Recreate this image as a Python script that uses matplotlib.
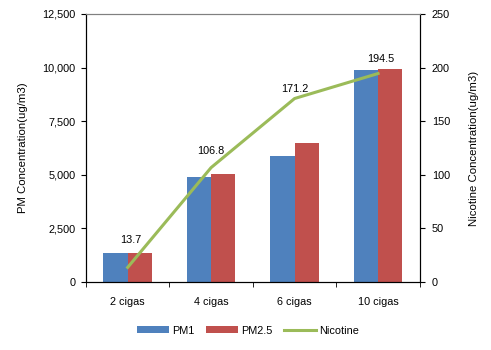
import matplotlib
matplotlib.use("Agg")
import matplotlib.pyplot as plt
import matplotlib.ticker as mticker
import numpy as np

plt.rcParams['font.family'] = ['Liberation Sans', 'DejaVu Sans']

# data
categories = ["2 cigas", "4 cigas", "6 cigas", "10 cigas"]
pm1 = [1340, 4880, 5890, 9890]
pm25 = [1340, 5040, 6500, 9930]
nicotine = [13.7, 106.8, 171.2, 194.5]

# label offsets (points) for the nicotine labels
label_dy = [16, 8, 3, 7]
label_dx = [2, 0, 0, 2]

fig = plt.figure(figsize=(4.91, 3.5), dpi=100)
ax = fig.add_axes([0.175, 0.194, 0.68, 0.766])
ax2 = ax.twinx()

x = np.arange(len(categories))
w = 0.29
ax.bar(x - w / 2, pm1, w, color='#4F81BD', label='PM1', zorder=2)
ax.bar(x + w / 2, pm25, w, color='#C0504D', label='PM2.5', zorder=2)
ax2.plot(x, nicotine, color='#9BBB59', lw=2.2, label='Nicotine')

for i, v in enumerate(nicotine):
    ax2.annotate(f"{v}", (x[i], v), xytext=(label_dx[i], label_dy[i]),
                 textcoords='offset points', ha='center', va='bottom', fontsize=7.8)

ax.set_xlim(-0.5, len(categories) - 0.5)
ax.set_ylim(0, 12500)
ax2.set_ylim(0, 250)
ax.yaxis.set_major_locator(mticker.MultipleLocator(2500))
ax.yaxis.set_major_formatter(mticker.FuncFormatter(lambda v, p: f"{int(v):,}"))
ax2.yaxis.set_major_locator(mticker.MultipleLocator(50))

ax.set_xticks(x)
ax.set_xticklabels(categories)
ax.set_xticks(np.arange(-0.5, len(categories)), minor=True)
ax.tick_params(axis='x', which='major', length=0, pad=11, labelsize=7.8)
ax.tick_params(axis='x', which='minor', length=3.6, direction='out')
ax.tick_params(axis='y', length=3.6, labelsize=7.8, pad=4)
ax2.tick_params(axis='y', length=3.6, labelsize=7.8, pad=5)

ax.set_ylabel("PM Concentration(ug/m3)", fontsize=8.2, labelpad=10)
ax2.set_ylabel("Nicotine Concentration(ug/m3)", fontsize=8.2, labelpad=14)

for a in (ax, ax2):
    a.spines['top'].set_color('#808080')
    a.spines['left'].set_color('black')
    a.spines['right'].set_color('black')
    a.spines['bottom'].set_color('black')

h1, l1 = ax.get_legend_handles_labels()
h2, l2 = ax2.get_legend_handles_labels()
fig.legend(h1 + h2, l1 + l2, loc='center', bbox_to_anchor=(0.505, 0.055), ncol=3,
           frameon=False, fontsize=7.8, handlelength=3.0, handleheight=0.6,
           columnspacing=1.0, handletextpad=0.3)

fig.savefig("out.png", dpi=100)
